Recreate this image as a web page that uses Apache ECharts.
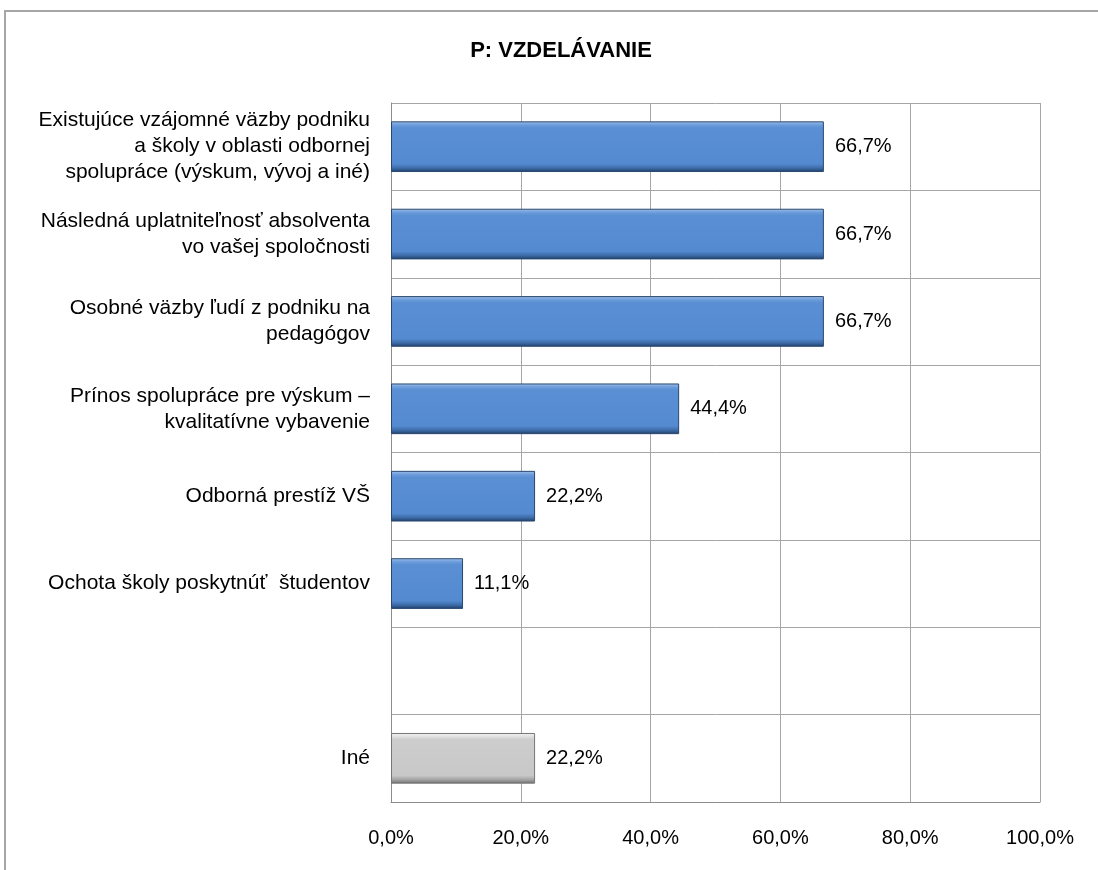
<!DOCTYPE html>
<html>
<head>
<meta charset="utf-8">
<script src="https://cdn.jsdelivr.net/npm/echarts@6/dist/echarts.min.js"></script>
<style>
  html, body { margin: 0; padding: 0; background: #fff; }
  #chart { width: 1098px; height: 870px; }
</style>
</head>
<body>
<div id="chart"></div>
<script>
const categories = [
  "Existujúce vzájomné väzby podniku\na školy v oblasti odbornej\nspolupráce (výskum, vývoj a iné)",
  "Následná uplatniteľnosť absolventa\nvo vašej spoločnosti",
  "Osobné väzby ľudí z podniku na\npedagógov",
  "Prínos spolupráce pre výskum –\nkvalitatívne vybavenie",
  "Odborná prestíž VŠ",
  "Ochota školy poskytnúť  študentov",
  "",
  "Iné"
];
const values = [66.7, 66.7, 66.7, 44.4, 22.2, 11.1, null, 22.2];
const grayCategory = "Iné";
const axisMin = 0;
const axisMax = 100;
const axisStep = 20;

const pct = v => v.toFixed(1).replace(".", ",") + "%";

const blueFill = new echarts.graphic.LinearGradient(0, 0, 0, 1, [
  { offset: 0, color: "#a3c2ea" },
  { offset: 0.07, color: "#6d9ddc" },
  { offset: 0.13, color: "#5a8fd4" },
  { offset: 0.84, color: "#548ad0" },
  { offset: 0.93, color: "#3a68a3" },
  { offset: 1, color: "#1f3c62" }
]);
const grayFill = new echarts.graphic.LinearGradient(0, 0, 0, 1, [
  { offset: 0, color: "#f4f4f4" },
  { offset: 0.07, color: "#e0e0e0" },
  { offset: 0.13, color: "#cdcdcd" },
  { offset: 0.84, color: "#c8c8c8" },
  { offset: 0.93, color: "#a0a0a0" },
  { offset: 1, color: "#6a6a6a" }
]);

const barData = values.map((v, i) => ({
  value: v,
  itemStyle: categories[i] === grayCategory
    ? { color: grayFill, borderColor: "#777777" }
    : { color: blueFill, borderColor: "#284870" }
}));

const font = "'Liberation Sans', Arial, sans-serif";

const chart = echarts.init(document.getElementById("chart"));
chart.setOption({
  animation: false,
  backgroundColor: "#fff",
  title: {
    text: "P: VZDELÁVANIE",
    left: 556,
    top: 35,
    textAlign: "center",
    textStyle: { fontFamily: font, fontSize: 22, fontWeight: "bold", color: "#000" }
  },
  graphic: [
    {
      type: "rect",
      shape: { x: 5, y: 11, width: 1200, height: 1000 },
      style: { fill: "none", stroke: "#a6a6a6", lineWidth: 2 },
      silent: true
    }
  ],
  grid: { left: 391, right: 58, top: 103, bottom: 68, containLabel: false },
  xAxis: {
    type: "value",
    min: axisMin,
    max: axisMax,
    interval: axisStep,
    axisLine: { show: true, lineStyle: { color: "#8c8c8c", width: 1 } },
    axisTick: { show: false },
    splitLine: { show: true, lineStyle: { color: "#a6a6a6", width: 1 } },
    axisLabel: {
      formatter: v => pct(v),
      margin: 26,
      fontFamily: font,
      fontSize: 20,
      color: "#000"
    }
  },
  yAxis: {
    type: "category",
    inverse: true,
    data: categories,
    axisLine: { show: true, lineStyle: { color: "#8c8c8c", width: 1 } },
    axisTick: { show: false },
    splitLine: { show: true, lineStyle: { color: "#a6a6a6", width: 1 } },
    axisLabel: {
      margin: 21,
      fontFamily: font,
      fontSize: 21,
      lineHeight: 26,
      color: "#000",
      align: "right",
      interval: 0
    }
  },
  series: [
    {
      type: "bar",
      data: barData,
      barWidth: "58%",
      itemStyle: { borderWidth: 1 },
      label: {
        show: true,
        position: "right",
        distance: 11,
        formatter: p => (p.value == null ? "" : pct(p.value)),
        fontFamily: font,
        fontSize: 20,
        color: "#000"
      }
    }
  ]
});
</script>
</body>
</html>
